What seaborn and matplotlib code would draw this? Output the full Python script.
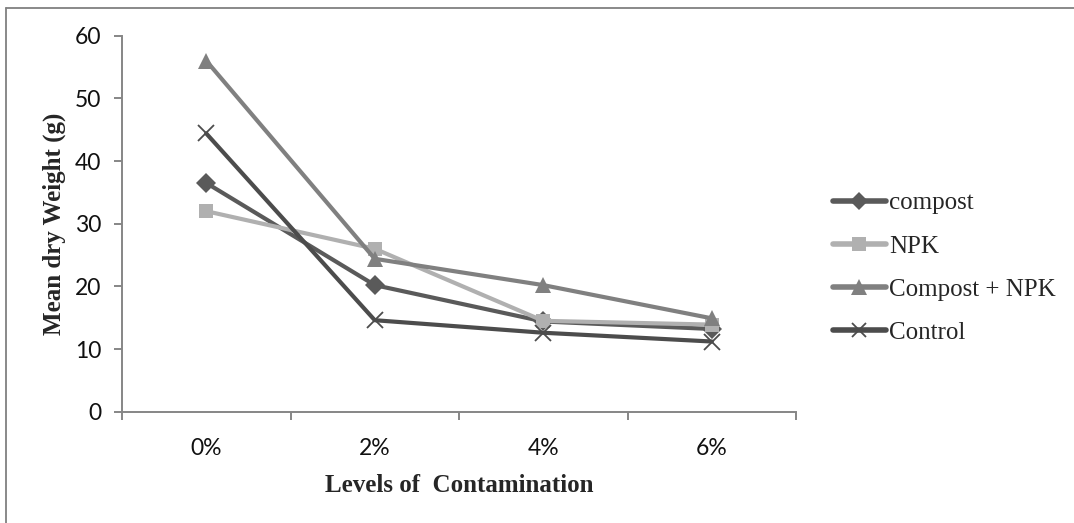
import matplotlib
matplotlib.use("Agg")
import matplotlib.pyplot as plt
from matplotlib.lines import Line2D
import seaborn as sns
import pandas as pd

levels = ["0%", "2%", "4%", "6%"]
compost = [36.5, 20.2, 14.4, 13.2]
npk = [32.0, 26.0, 14.5, 13.9]
compost_npk = [56.0, 24.4, 20.2, 14.9]
control = [44.4, 14.6, 12.6, 11.2]
series_names = ["compost", "NPK", "Compost + NPK", "Control"]
yticks = [0, 10, 20, 30, 40, 50, 60]

rows = []
for name, vals in zip(series_names, [compost, npk, compost_npk, control]):
    for lv, v in zip(levels, vals):
        rows.append({"level": lv, "value": v, "series": name})
df = pd.DataFrame(rows)
df["pos"] = df["level"].map({lv: i for i, lv in enumerate(levels)})

sns.set_style("white")
plt.rcParams["font.family"] = ["Lato", "DejaVu Sans"]

palette = {"compost": "#5a5a5a", "NPK": "#b0b0b0",
           "Compost + NPK": "#808080", "Control": "#4c4c4c"}
markers = {"compost": "D", "NPK": "s", "Compost + NPK": "^", "Control": "x"}
msize = {"compost": 10, "NPK": 10.5, "Compost + NPK": 12, "Control": 11}

fig = plt.figure(figsize=(10.74, 5.23), dpi=100)
ax = fig.add_axes([122 / 1074, 1 - 411.7 / 523, (796 - 122) / 1074, (411.7 - 35.7) / 523])

for name in series_names:
    sub = df[df["series"] == name]
    sns.lineplot(data=sub, x="pos", y="value", ax=ax, color=palette[name],
                 linewidth=3.0, marker=markers[name], markersize=msize[name],
                 markeredgewidth=1.3 if name == "Control" else 0,
                 markeredgecolor=palette[name], label=name, legend=False)

ax.set_xlim(-0.5, len(levels) - 0.5)
ax.set_ylim(0, 60)
ax.set_yticks(yticks)
ax.set_xticks(range(len(levels)))
ax.set_xticklabels(levels)
ax.set_xticks([i - 0.5 for i in range(len(levels) + 1)], minor=True)

axis_color = "#868686"
for side in ["top", "right"]:
    ax.spines[side].set_visible(False)
for side in ["left", "bottom"]:
    ax.spines[side].set_color(axis_color)
    ax.spines[side].set_linewidth(1.4)

ax.tick_params(axis="y", which="major", direction="out", length=6, width=1.4,
               color=axis_color, labelsize=16.5, pad=9, left=True)
ax.tick_params(axis="x", which="major", length=0, labelsize=16.5, pad=19)
ax.tick_params(axis="x", which="minor", direction="out", length=6, width=1.4,
               color=axis_color, bottom=True)
for lab in ax.get_xticklabels() + ax.get_yticklabels():
    lab.set_color("#111111")

ax.set_xlabel("Levels of  Contamination", fontfamily="Liberation Serif",
              fontweight="bold", fontsize=18, labelpad=11)
ax.set_ylabel("Mean dry Weight (g)", fontfamily="Liberation Serif",
              fontweight="bold", fontsize=18)
ax.yaxis.set_label_coords((66 - 122) / 674, 0.5)

handles = []
for name in series_names:
    handles.append(Line2D([], [], color=palette[name], linewidth=4,
                          marker=markers[name], markersize=msize[name] * 0.95,
                          markeredgewidth=1.3 if name == "Control" else 0,
                          markeredgecolor=palette[name],
                          solid_capstyle="round"))
leg = fig.legend(handles, series_names, loc="center left",
                 bbox_to_anchor=(833 / 1074, 1 - 268 / 523),
                 frameon=False, prop={"family": "Liberation Serif", "size": 18},
                 handlelength=2.1, handletextpad=0.15, labelspacing=0.83,
                 borderpad=0, borderaxespad=0)

fig.add_artist(Line2D([6 / 1074, 1], [1 - 8 / 523, 1 - 8 / 523], color="#808080",
                      linewidth=1.3, transform=fig.transFigure))
fig.add_artist(Line2D([6 / 1074, 6 / 1074], [0, 1 - 8 / 523], color="#808080",
                      linewidth=1.3, transform=fig.transFigure))

fig.savefig("out.png", dpi=100)
